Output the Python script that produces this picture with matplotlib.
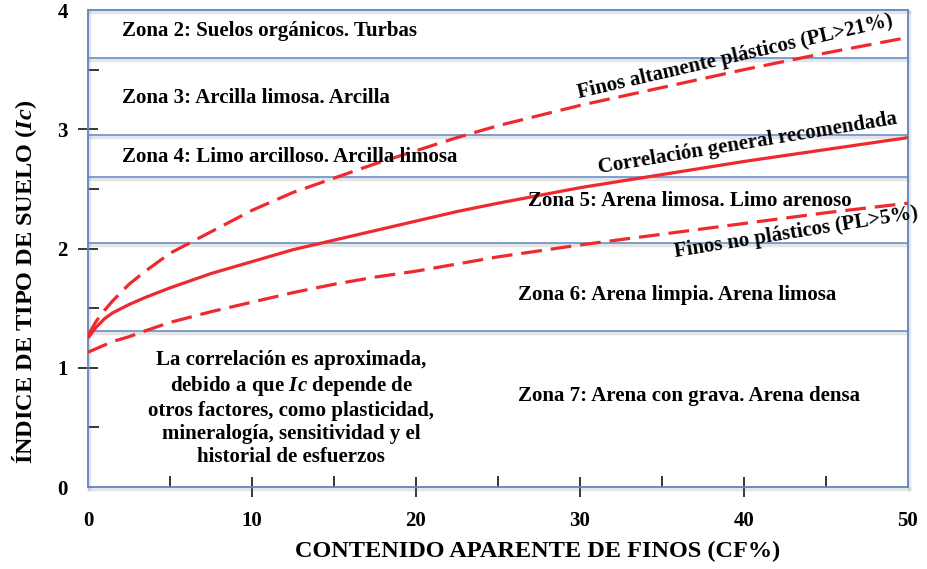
import matplotlib
matplotlib.use('Agg')
import matplotlib.pyplot as plt
import matplotlib.patheffects as pe

plt.rcParams['font.family'] = 'Liberation Serif'
plt.rcParams['font.weight'] = 'bold'
plt.rcParams['mathtext.fontset'] = 'custom'
plt.rcParams['mathtext.it'] = 'Liberation Serif:italic:bold'
plt.rcParams['mathtext.rm'] = 'Liberation Serif:bold'

# curvas
cf = [0, 0.5, 1, 1.5, 2.5, 3.5, 5, 7.5, 10, 12.5, 15, 17.5, 20, 22.5, 25, 30, 35, 40, 45, 50]
ic_general = [1.25, 1.34, 1.41, 1.46, 1.53, 1.59, 1.67, 1.79, 1.89, 1.99, 2.07, 2.15, 2.23, 2.31, 2.38, 2.51, 2.62, 2.73, 2.83, 2.93]
ic_plastic = [1.27, 1.39, 1.48, 1.56, 1.70, 1.81, 1.96, 2.14, 2.32, 2.47, 2.59, 2.71, 2.82, 2.93, 3.03, 3.20, 3.35, 3.50, 3.64, 3.77]
ic_nonplastic = [1.13, 1.16, 1.19, 1.22, 1.26, 1.31, 1.38, 1.47, 1.55, 1.63, 1.70, 1.76, 1.81, 1.87, 1.93, 2.03, 2.12, 2.21, 2.30, 2.38]

zone_bounds = [3.6, 2.95, 2.6, 2.05, 1.31]
zone_labels = ['Zona 2: Suelos orgánicos. Turbas',
               'Zona 3: Arcilla limosa. Arcilla',
               'Zona 4: Limo arcilloso. Arcilla limosa',
               'Zona 5: Arena limosa. Limo arenoso',
               'Zona 6: Arena limpia. Arena limosa',
               'Zona 7: Arena con grava. Arena densa']
zone_x = [2.1, 2.1, 2.1, 26.8, 26.2, 26.2]
zone_y = [3.82, 3.26, 2.77, 2.40, 1.61, 0.76]

curve_labels = ['Finos altamente plásticos (PL>21%)',
                'Correlación general recomendada',
                'Finos no plásticos (PL>5%)']
curve_lx = [39.45, 40.2, 43.2]
curve_ly = [3.61, 2.88, 2.13]
curve_rot = [13.0, 9.4, 9.1]

note = ('La correlación es aproximada,\n'
        'debido a que $Ic$ depende de\n'
        'otros factores, como plasticidad,\n'
        'mineralogía, sensitividad y el\n'
        'historial de esfuerzos')

blue = '#5b86c2'
red = '#ee2a2e'
shadow = [pe.SimpleLineShadow(offset=(1, -1.5), shadow_color='gray', alpha=0.2, linewidth=2.5), pe.Normal()]

fig = plt.figure(figsize=(9.27, 5.69), dpi=100)
ax = fig.add_axes([0.0949, 0.1441, 0.8846, 0.8383])

for b in zone_bounds:
    ax.axhline(b, color=blue, lw=1.1, path_effects=shadow, zorder=1)

ax.plot(cf, ic_general, color=red, lw=2.3, solid_capstyle='butt', zorder=3)
ax.plot(cf, ic_plastic, color=red, lw=2.3, dashes=(6.5, 2.8), zorder=3)
ax.plot(cf, ic_nonplastic, color=red, lw=2.3, dashes=(6.5, 2.8), zorder=3)

for t, x, y in zip(zone_labels, zone_x, zone_y):
    ax.text(x, y, t, fontsize=15, ha='left', va='center', zorder=4)

for t, x, y, r in zip(curve_labels, curve_lx, curve_ly, curve_rot):
    ax.text(x, y, t, fontsize=15, ha='center', va='center', rotation=r,
            rotation_mode='anchor', zorder=4)

ax.text(12.4, 0.66, note, fontsize=15, ha='center', va='center',
        linespacing=1.2, zorder=4)

ax.set_xlim(0, 50)
ax.set_ylim(0, 4)

for s in ax.spines.values():
    s.set_color(blue)
    s.set_linewidth(1.3)
    s.set_path_effects(shadow)

ax.set_xticks([0, 10, 20, 30, 40, 50])
ax.set_xticks([5, 15, 25, 35, 45], minor=True)
ax.set_yticks([0, 1, 2, 3, 4])
ax.set_yticks([0.5, 1.5, 2.5, 3.5], minor=True)
ax.tick_params(which='major', direction='inout', length=15, width=1.1, color='black', labelsize=15)
ax.tick_params(axis='x', which='major', pad=10)
ax.tick_params(axis='y', which='major', pad=7)
ax.tick_params(which='minor', direction='in', length=8, width=1.1, color='black')
for tk in (ax.xaxis.get_major_ticks()[0], ax.xaxis.get_major_ticks()[-1],
           ax.yaxis.get_major_ticks()[0], ax.yaxis.get_major_ticks()[-1]):
    tk.tick1line.set_visible(False)

ax.set_xlabel('CONTENIDO APARENTE DE FINOS (CF%)', fontsize=17.5, fontweight='bold')
ax.set_ylabel('ÍNDICE DE TIPO DE SUELO ($Ic$)', fontsize=17.5, fontweight='bold')
ax.xaxis.set_label_coords(0.548, -0.112)
ax.yaxis.set_label_coords(-0.06, 0.43)

fig.savefig('out.png', dpi=100)
